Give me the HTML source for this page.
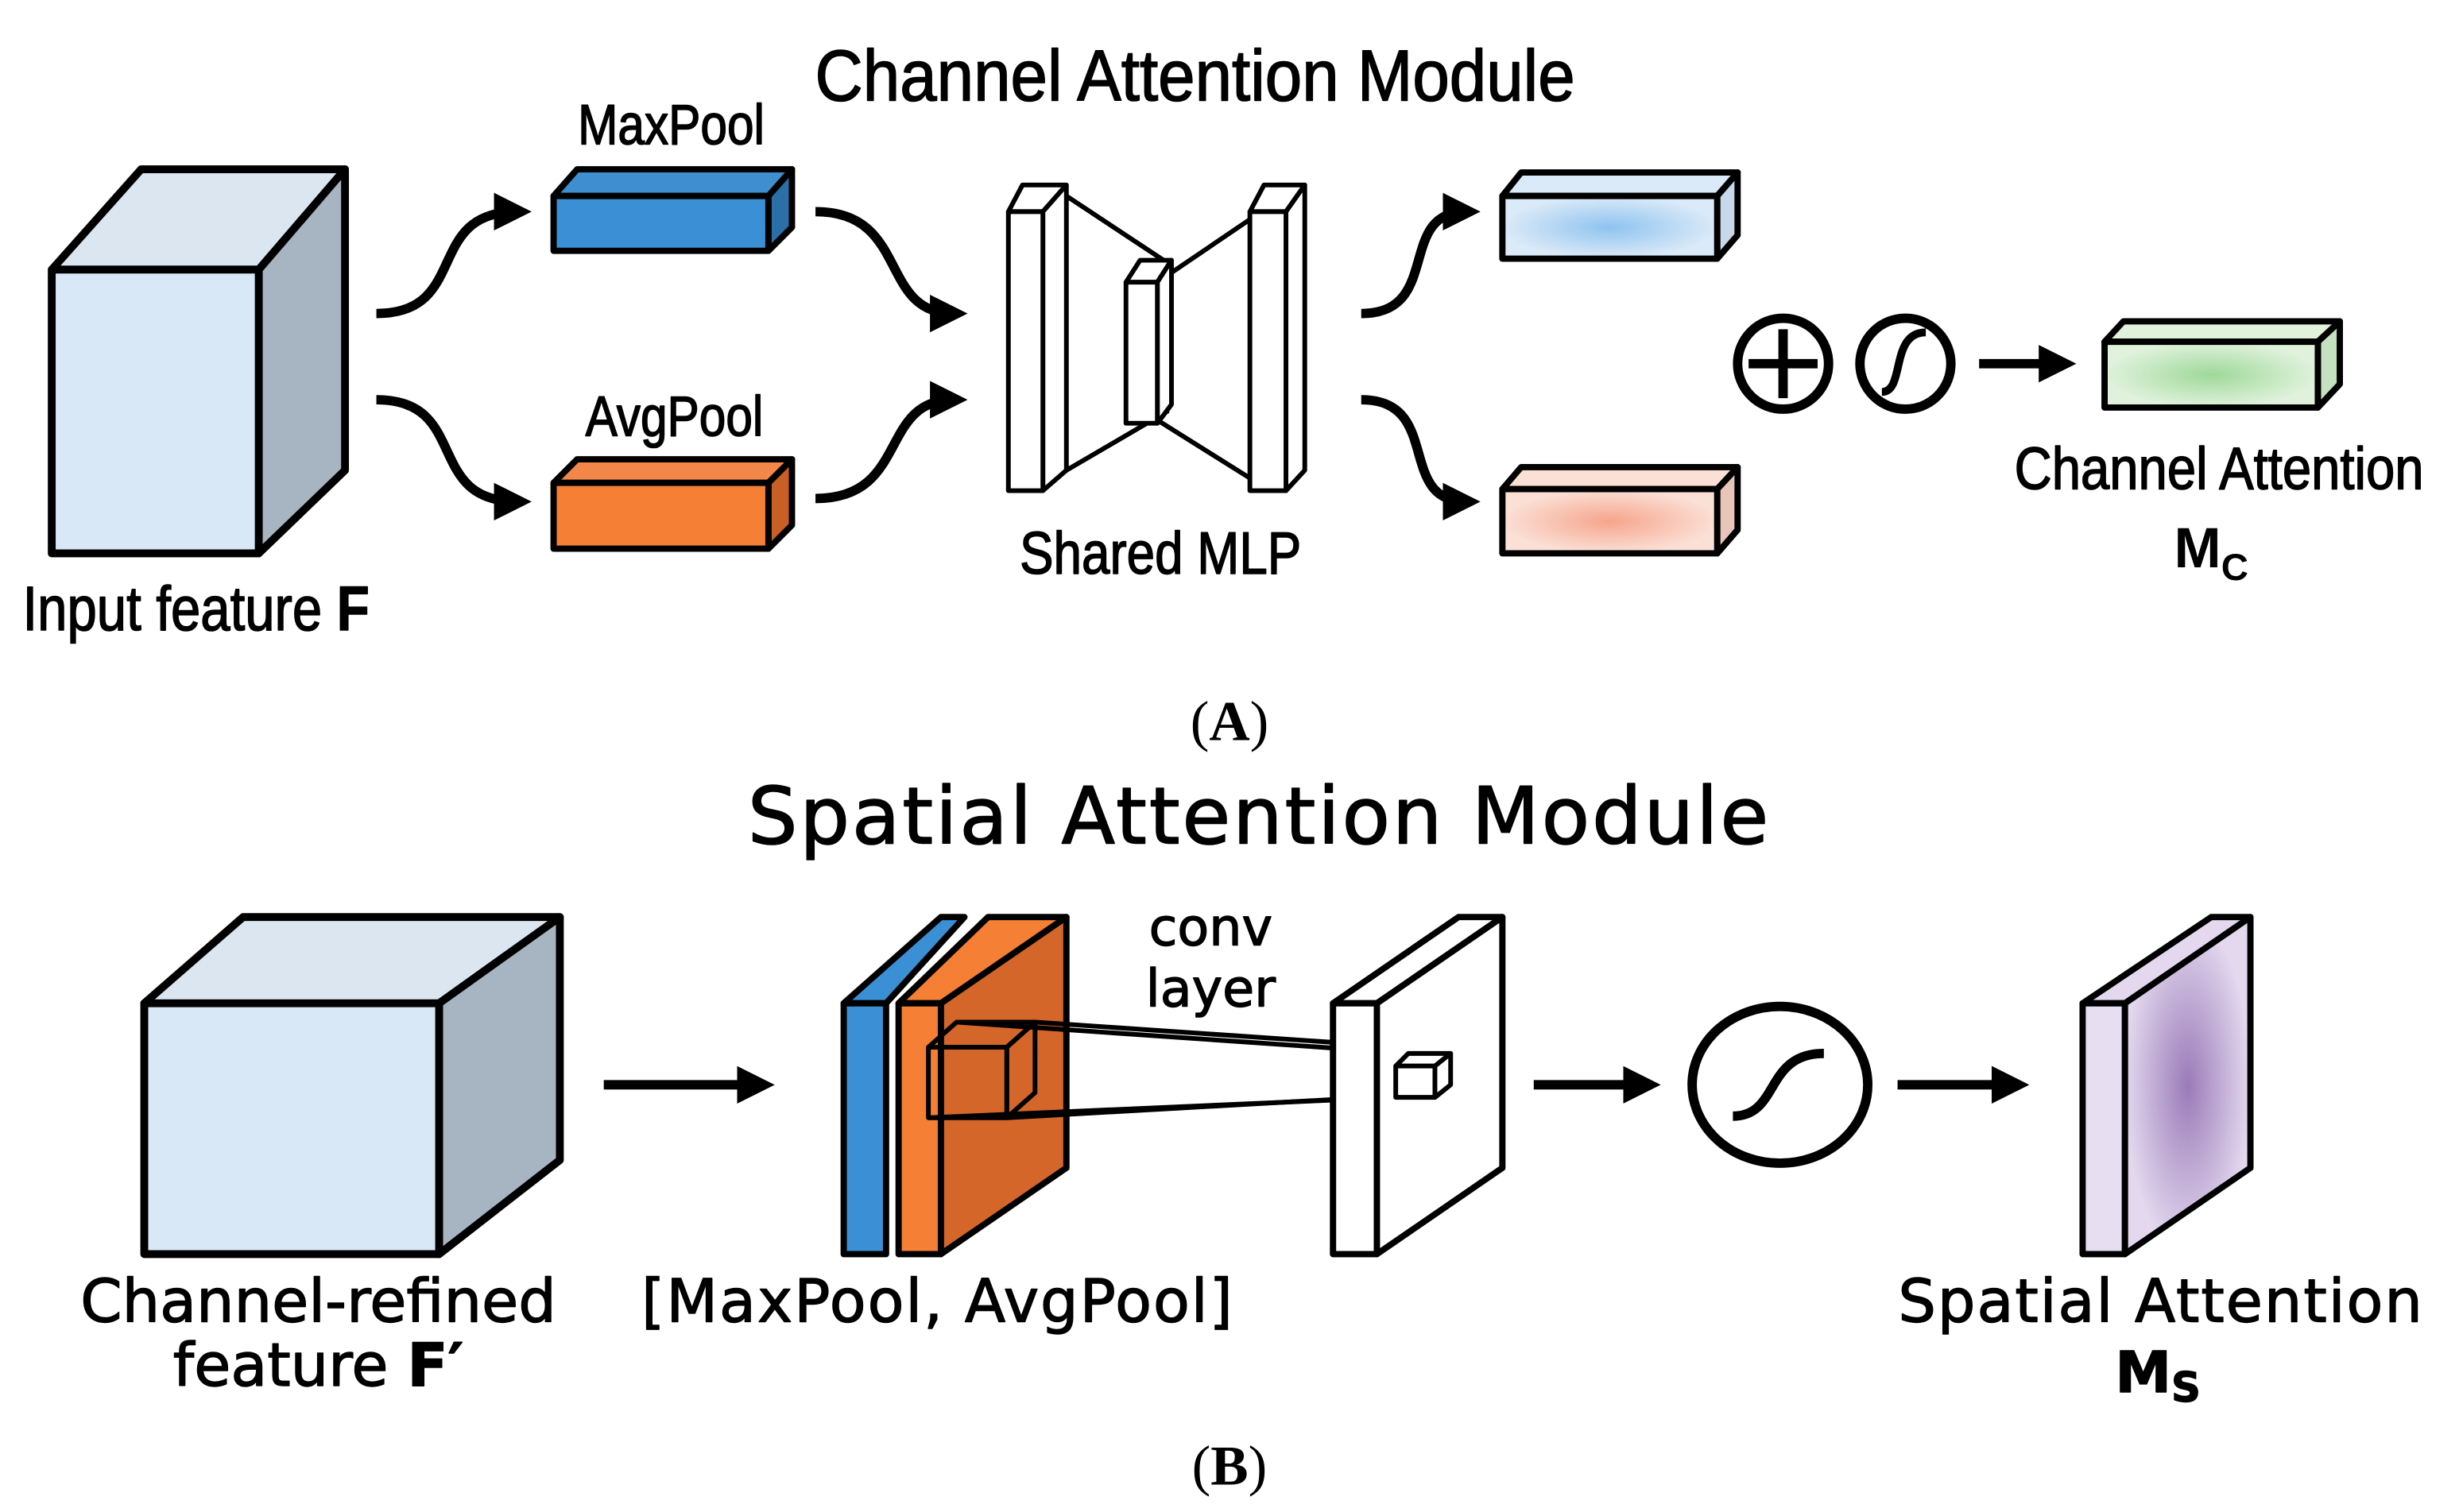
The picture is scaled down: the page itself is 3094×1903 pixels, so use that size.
<!DOCTYPE html>
<html><head><meta charset="utf-8"><style>html,body{margin:0;padding:0;background:#fff}svg{display:block}</style></head>
<body>
<svg width="3094" height="1903" viewBox="0 0 1568 964.5" preserveAspectRatio="none" xmlns="http://www.w3.org/2000/svg">
<defs>
<marker id="ah" markerWidth="4" markerHeight="4" refX="2.5" refY="2" orient="auto" markerUnits="strokeWidth"><path d="M0,0 L4,2 L0,4 z" fill="#000"/></marker>
<radialGradient id="gb"><stop offset="0" stop-color="#8ec3ef"/><stop offset="1" stop-color="#dbeaf8"/></radialGradient>
<radialGradient id="gp"><stop offset="0" stop-color="#f5a58c"/><stop offset="1" stop-color="#fbe0d6"/></radialGradient>
<radialGradient id="gg"><stop offset="0" stop-color="#9fd89a"/><stop offset="1" stop-color="#e0f2dc"/></radialGradient>
<radialGradient id="gv"><stop offset="0" stop-color="#9a7bb8"/><stop offset="1" stop-color="#e3d8ee"/></radialGradient>
</defs>
<g font-family="Liberation Sans, DejaVu Sans, sans-serif" stroke-linejoin="round">
<g stroke="#000" stroke-width="0.8">
<text x="762" y="64" font-size="46" text-anchor="middle" transform="translate(762 0) scale(0.92 1) translate(-762 0)">Channel Attention Module</text>
<text x="428" y="92" font-size="36" text-anchor="middle" transform="translate(428 0) scale(0.85 1) translate(-428 0)">MaxPool</text>
<text x="430" y="278" font-size="36" text-anchor="middle" transform="translate(430 0) scale(0.85 1) translate(-430 0)">AvgPool</text>
<text x="740" y="366" font-size="38" text-anchor="middle" transform="translate(740 0) scale(0.85 1) translate(-740 0)">Shared MLP</text>
<text x="1415" y="312" font-size="38" text-anchor="middle" transform="translate(1415 0) scale(0.87 1) translate(-1415 0)">Channel Attention</text>
<text x="125" y="402" font-size="40" text-anchor="middle" transform="translate(125 0) scale(0.85 1) translate(-125 0)">Input feature <tspan font-weight="bold">F</tspan></text>
</g>
<!-- input cube -->
<g stroke="#000" stroke-width="5">
<polygon points="33,172 90,108 220,108 165,172" fill="#dbe6f1"/>
<polygon points="165,172 220,108 220,300 165,353" fill="#a7b4c2"/>
<rect x="33" y="172" width="132" height="181" fill="#d8e8f6"/>
</g>
<!-- bars -->
<g stroke="#000" stroke-width="4">
<polygon points="353,125 368,108 505,108 490,125" fill="#3f8fd0"/>
<polygon points="490,125 505,108 505,145 490,160" fill="#2b6fa8"/>
<rect x="353" y="125" width="137" height="35" fill="#3b8fd4"/>
<polygon points="353,308 368,293 505,293 490,308" fill="#f3874a"/>
<polygon points="490,308 505,293 505,335 490,350" fill="#c85f25"/>
<rect x="353" y="308" width="137" height="42" fill="#f47f35"/>
<polygon points="958,125 970,110 1108,110 1095,125" fill="#dbeaf8"/>
<polygon points="1095,125 1108,110 1108,150 1095,165" fill="#c6d8ea"/>
<rect x="958" y="125" width="137" height="40" fill="url(#gb)"/>
<polygon points="958,312 970,298 1108,298 1095,312" fill="#fbe0d6"/>
<polygon points="1095,312 1108,298 1108,338 1095,353" fill="#e8c5b8"/>
<rect x="958" y="312" width="137" height="41" fill="url(#gp)"/>
<polygon points="1342,218 1354,205 1492,205 1478,218" fill="#e0f2dc"/>
<polygon points="1478,218 1492,205 1492,245 1478,260" fill="#c5e2c0"/>
<rect x="1342" y="218" width="136" height="42" fill="url(#gg)"/>
</g>
<!-- curved arrows -->
<g stroke="#000" stroke-width="6" fill="none">
<path d="M240,200 C300,200 270,135 330,135" marker-end="url(#ah)"/>
<path d="M240,255 C300,255 270,320 330,320" marker-end="url(#ah)"/>
<path d="M520,135 C580,135 560,200 608,200" marker-end="url(#ah)"/>
<path d="M520,318 C580,318 560,255 608,255" marker-end="url(#ah)"/>
<path d="M868,200 C920,200 890,135 935,135" marker-end="url(#ah)"/>
<path d="M868,255 C920,255 890,320 935,320" marker-end="url(#ah)"/>
<path d="M1262,232 L1315,232" marker-end="url(#ah)"/>
</g>
<!-- shared MLP -->
<g stroke="#000" stroke-width="3" fill="#fff">
<line x1="680" y1="125" x2="745" y2="168"/><line x1="680" y1="300" x2="745" y2="262"/>
<line x1="797" y1="140" x2="738" y2="180"/><line x1="797" y1="305" x2="738" y2="268"/>
<polygon points="643,135 652,118 680,118 665,135"/><polygon points="665,135 680,118 680,300 665,313"/>
<rect x="643" y="135" width="22" height="178"/>
<polygon points="718,180 727,166 747,166 738,180"/><polygon points="738,180 747,166 747,258 738,270"/>
<rect x="718" y="180" width="20" height="90"/>
<polygon points="797,135 806,118 832,118 820,135"/><polygon points="820,135 832,118 832,300 820,313"/>
<rect x="797" y="135" width="23" height="178"/>
</g>
<!-- circles -->
<g stroke="#000" stroke-width="6" fill="none">
<circle cx="1137" cy="232" r="29"/>
<line x1="1137" y1="210" x2="1137" y2="254"/><line x1="1115" y1="232" x2="1159" y2="232"/>
<circle cx="1215" cy="232" r="29"/>
<path d="M1200,250 C1215,250 1205,212 1228,212" stroke-width="5"/>
</g>
<text x="1410" y="362" font-size="36" font-weight="bold" text-anchor="middle">M<tspan font-size="24" dy="8">C</tspan></text>
<text x="784" y="472" font-size="36" font-family="Liberation Serif, serif" text-anchor="middle">(<tspan font-weight="bold">A</tspan>)</text>
<!-- bottom -->
<text x="803" y="538" font-size="50" font-family="DejaVu Sans, sans-serif" text-anchor="middle" stroke="#000" stroke-width="0.8" letter-spacing="1.5">Spatial Attention Module</text>
<g stroke="#000" stroke-width="5">
<polygon points="92,640 155,585 357,585 280,640" fill="#dbe6f1"/>
<polygon points="280,640 357,585 357,740 280,800" fill="#a7b4c2"/>
<rect x="92" y="640" width="188" height="160" fill="#d8e8f6"/>
</g>
<g stroke="#000" stroke-width="6" fill="none">
<line x1="385" y1="692" x2="485" y2="692" marker-end="url(#ah)"/>
<line x1="978" y1="692" x2="1050" y2="692" marker-end="url(#ah)"/>
<line x1="1210" y1="692" x2="1285" y2="692" marker-end="url(#ah)"/>
</g>
<g stroke="#000" stroke-width="4">
<polygon points="538,640 600,585 615,585 565,640" fill="#3b8fd4"/>
<rect x="538" y="640" width="27" height="160" fill="#3b8fd4"/>
<polygon points="573,640 630,585 680,585 600,640" fill="#f47f35"/>
<rect x="573" y="640" width="27" height="160" fill="#f47f35"/>
<polygon points="600,640 680,585 680,745 600,800" fill="#d5662a"/>
</g>
<g stroke="#000" stroke-width="3" fill="none">
<polygon points="592,668 610,652 660,652 642,668"/><rect x="592" y="668" width="50" height="45"/><polygon points="642,668 660,652 660,697 642,713"/>
<line x1="610" y1="652" x2="900" y2="672"/><line x1="660" y1="652" x2="925" y2="670"/>
<line x1="592" y1="713" x2="890" y2="700"/><line x1="642" y1="713" x2="910" y2="698"/>
</g>
<g stroke="#000" stroke-width="4" fill="#fff">
<polygon points="850,640 930,585 958,585 878,640"/>
<rect x="850" y="640" width="28" height="160"/>
<polygon points="878,640 958,585 958,745 878,800"/>
</g>
<g stroke="#000" stroke-width="3" fill="#fff">
<polygon points="890,680 898,672 925,672 915,680"/><rect x="890" y="680" width="25" height="20"/><polygon points="915,680 925,672 925,692 915,700"/>
</g>
<g font-family="DejaVu Sans, sans-serif" stroke="#000" stroke-width="0.7" text-anchor="middle">
<text x="772" y="603" font-size="33">conv</text>
<text x="772" y="642" font-size="33">layer</text>
<text x="203" y="843" font-size="38">Channel-refined</text>
<text x="203" y="884" font-size="38">feature <tspan font-weight="bold">F′</tspan></text>
<text x="598" y="843" font-size="38" letter-spacing="1">[MaxPool, AvgPool]</text>
<text x="1378" y="843" font-size="38" letter-spacing="1">Spatial Attention</text>
<text x="1376" y="888" font-size="36" font-weight="bold">M<tspan font-size="26" dy="6">S</tspan></text>
</g>
<g stroke="#000" stroke-width="6" fill="none">
<ellipse cx="1135" cy="692" rx="56" ry="50"/>
<path d="M1105,712 C1135,712 1125,672 1163,672"/>
</g>
<g stroke="#000" stroke-width="4">
<polygon points="1328,640 1410,585 1435,585 1355,640" fill="#e3d8ee"/>
<rect x="1328" y="640" width="27" height="160" fill="#e8def2"/>
<polygon points="1355,640 1435,585 1435,745 1355,800" fill="url(#gv)"/>
</g>
<text x="784" y="947" font-size="36" font-family="Liberation Serif, serif" text-anchor="middle">(<tspan font-weight="bold">B</tspan>)</text>
</g>
</svg>
</body></html>
